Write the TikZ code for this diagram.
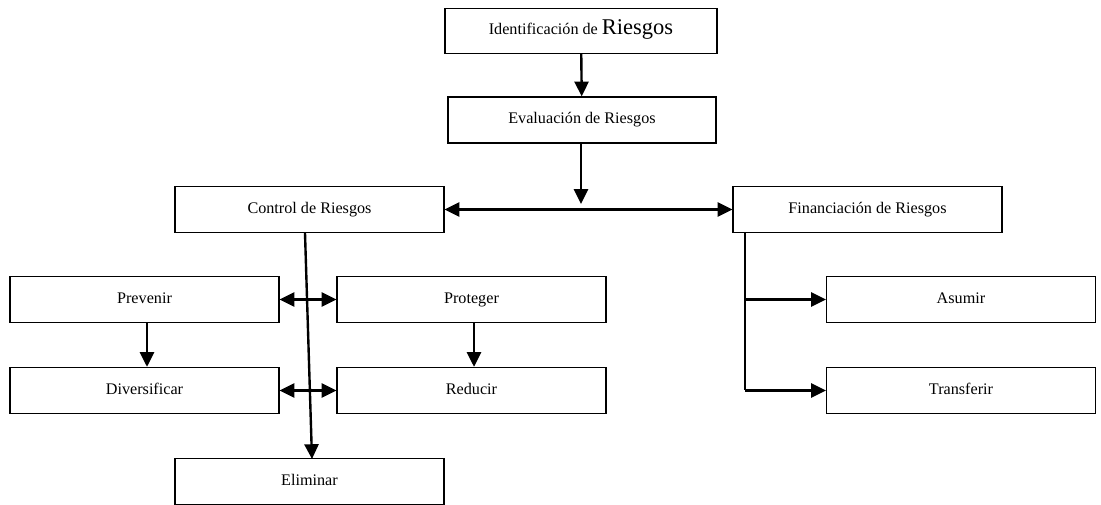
\documentclass[tikz,border=0pt]{standalone}
\usepackage{fontspec}
\setmainfont{Liberation Serif}
\usetikzlibrary{arrows.meta, positioning}

\begin{document}
\begin{tikzpicture}[
        x=0.025cm, y=-0.025cm,
        box/.style={draw, line width=0.9pt, minimum width=6.72cm, minimum height=1.15cm, inner sep=0pt, text height=8.5pt, text depth=3pt, font=\fontsize{11.5}{14}\selectfont},
        link/.style={line width=1.7pt, -{Triangle[length=10.5pt, width=10pt]}},
        twolink/.style={line width=1.7pt, {Triangle[length=10.5pt, width=10pt]}-{Triangle[length=10.5pt, width=10pt]}}
    ]
        \useasboundingbox (0,0) rectangle (1101,505);

        % Main chain
        \node[box, minimum width=6.8cm, minimum height=1.13cm] (ident) at (581,31) {Identificación de {\fontsize{16}{18}\selectfont Riesgos}};
        \node[box, minimum width=6.7cm] (eval) at (582,120) {Evaluación de Riesgos};
        \node[box] (ctrl) at (309.5,209.5) {Control de Riesgos};
        \node[box] (fin) at (867.5,209.5) {Financiación de Riesgos};

        % Control branch
        \node[box] (prev) at (144.5,299.5) {Prevenir};
        \node[box] (prot) at (471.5,299.5) {Proteger};
        \node[box] (div) at (144.5,390.5) {Diversificar};
        \node[box] (red) at (471.5,390.5) {Reducir};
        \node[box] (elim) at (309.5,481.5) {Eliminar};

        % Financing branch
        \node[box] (asum) at (961,299.5) {Asumir};
        \node[box] (trans) at (961,390.5) {Transferir};

        \coordinate (junc) at (581,204);
        \coordinate (ctop) at (305,233);
        \coordinate (cbot) at (312,459);
        \coordinate (ftop) at (745,233);
        \coordinate (fmid) at (745,299.5);
        \coordinate (fbot) at (745,390.5);

        % Arrows
        \draw[link] (ident) -- (eval);
        \draw[link] (eval.south -| junc) -- (junc);
        \draw[twolink] (ctrl) -- (fin);
        \draw[link] (ctop) -- (cbot);
        \draw[twolink] (prev) -- (prot);
        \draw[twolink] (div) -- (red);
        \draw[link] (prev.south -| 147,0) -- (div.north -| 147,0);
        \draw[link] (prot.south -| 474,0) -- (red.north -| 474,0);
        \draw[line width=1.7pt] (ftop) -- (fbot);
        \draw[link] (fmid) -- (asum.west);
        \draw[link] (fbot) -- (trans.west);
    \end{tikzpicture}
\end{document}
